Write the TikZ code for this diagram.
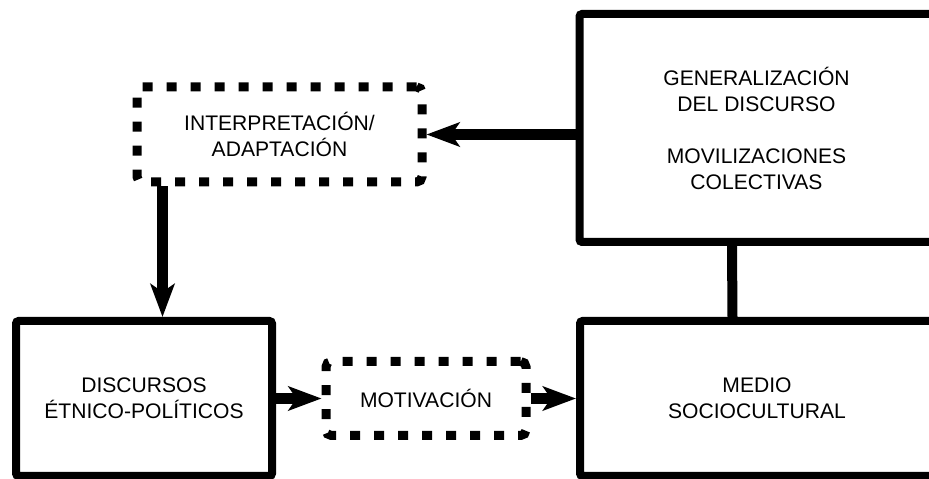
\documentclass[tikz,border=0pt]{standalone}
\usepackage{fontspec}
\setmainfont{Liberation Sans}
\usetikzlibrary{positioning,calc,arrows.meta}

\tikzset{
  solidbox/.style={draw, line width=0.16cm, rounded corners=1.5pt, align=center,
    font=\fontsize{12}{14.8}\selectfont},
  dashbox/.style={draw, line width=0.18cm, dash pattern=on 0.2cm off 0.28cm,
    rounded corners=3pt, align=center, font=\fontsize{12}{14.8}\selectfont},
  flowarrow/.style={line width=0.22cm, -{Stealth[length=0.66cm, width=0.48cm, inset=0.16cm]}},
  link/.style={line width=0.2cm}
}

\begin{document}
\begin{tikzpicture}
    \useasboundingbox (0,0) rectangle (18.58,9.58);
    \clip (0,0) rectangle (18.58,9.58);

    % Boxes
    \node[solidbox, minimum width=7.08cm, minimum height=4.56cm] (gen) at (15.13,7.02)
        {GENERALIZACIÓN\\DEL DISCURSO\\[14.8pt]MOVILIZACIONES\\COLECTIVAS};
    \node[solidbox, minimum width=7.08cm, minimum height=3.1cm] (medio) at (15.14,1.61)
        {MEDIO\\SOCIOCULTURAL};
    \node[solidbox, minimum width=5.12cm, minimum height=3.1cm] (disc) at (2.88,1.61)
        {DISCURSOS\\ÉTNICO-POLÍTICOS};
    \node[dashbox, minimum width=5.7cm, minimum height=1.9cm] (interp) at (5.59,6.89)
        {INTERPRETACIÓN/\\ADAPTACIÓN};
    \node[dashbox, minimum width=4cm, minimum height=1.48cm] (motiv) at (8.52,1.61)
        {MOTIVACIÓN};

    % Arrows
    \draw[flowarrow] (gen.west |- interp.east) -- (interp.east);
    \draw[flowarrow] ([xshift=0.6cm]interp.south west) -- ([xshift=0.6cm]interp.south west |- disc.north);
    \draw[flowarrow] (disc.east) -- (motiv.west);
    \draw[flowarrow] (motiv.east) -- (medio.west);

    % Link
    \draw[link] ([xshift=-0.49cm]gen.south) -- ([xshift=-0.49cm]medio.north);
\end{tikzpicture}
\end{document}
